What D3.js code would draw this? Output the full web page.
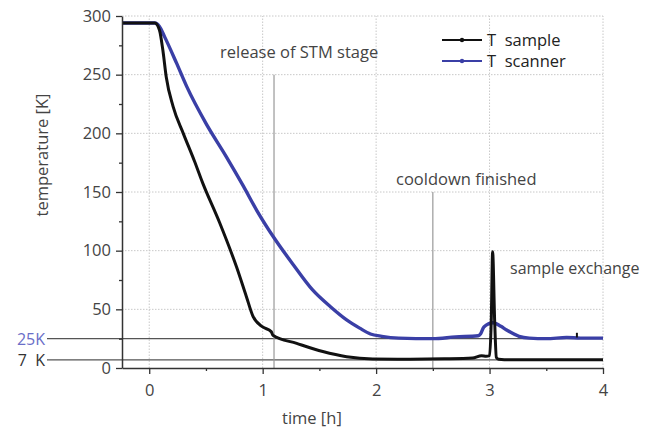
<!DOCTYPE html>
<html>
<head>
<meta charset="utf-8">
<script src="https://cdn.jsdelivr.net/npm/d3@7"></script>
<style>
  body { margin: 0; background: #fff; }
  svg { display: block; font-family: "Open Sans", sans-serif; }
  text { white-space: pre; }
</style>
</head>
<body>
<svg id="chart" width="646" height="430"></svg>
<script>
// values
const sampleTime = [-0.24, 0.05, 0.09, 0.12, 0.15, 0.21, 0.30, 0.40, 0.47, 0.62, 0.77, 0.856, 0.915, 1.0, 1.075, 1.09, 1.3, 1.53, 1.74, 1.97, 2.3, 2.6, 2.85, 2.93, 2.97, 3.0, 3.015, 3.027, 3.045, 3.06, 3.08, 3.2, 3.6, 4.0];
const sampleTemp = [294, 294, 288, 271, 248, 223, 200, 176, 158, 124, 86, 61, 44, 35, 31, 28, 21, 14, 9.6, 7.7, 7.5, 7.8, 8.5, 10.5, 10, 10.5, 40, 99, 40, 9, 7.5, 7, 7, 7];

const scannerTime = [-0.24, 0.05, 0.09, 0.137, 0.24, 0.33, 0.50, 0.68, 0.83, 0.95, 1.1, 1.27, 1.44, 1.6, 1.74, 1.855, 1.95, 2.05, 2.2, 2.5, 2.7, 2.9, 2.92, 2.95, 3.03, 3.1, 3.15, 3.26, 3.35, 3.5, 3.68, 3.8, 4.0];
const scannerTemp = [294, 294, 291, 282, 260, 240, 208.5, 180, 155, 134, 111, 88, 66.5, 52, 41, 34, 29, 27, 25.5, 25, 26.5, 27.5, 29, 35, 38.6, 35.5, 32.4, 27, 25.5, 25, 26, 25.5, 25.5];

// small stray sample reading near 3.8 h
const glitchTime = [3.77, 3.77];
const glitchTemp = [26, 30];

const xTicks = [0, 1, 2, 3, 4];
const xMinor = [0.5, 1.5, 2.5, 3.5];
const yTicks = [0, 50, 100, 150, 200, 250, 300];
const yMinor = [25, 75, 125, 175, 225, 275];

const refLevels = [{ v: 25, label: "25K", color: "#6a6ec8" }, { v: 7, label: "7  K", color: "#333" }];
const markers = [
  { t: 1.1, top: 250, label: "release of STM stage", lx: 220, ly: 58 },
  { t: 2.5, top: 150, label: "cooldown finished", lx: 396, ly: 185 }
];

const blue = "#3a3fa6";
const svg = d3.select("#chart");
const x = d3.scaleLinear().domain([-0.24, 4]).range([122, 603]);
const y = d3.scaleLinear().domain([0, 300]).range([368, 16]);

// dotted grid
const grid = svg.append("g").attr("stroke", "#c8c8c8").attr("stroke-width", 1).attr("stroke-dasharray", "1.5,1.5");
grid.selectAll("line.h").data(yTicks.filter(d => d > 0)).enter().append("line")
  .attr("x1", x.range()[0]).attr("x2", x.range()[1])
  .attr("y1", d => y(d)).attr("y2", d => y(d));
grid.selectAll("line.v").data(xTicks).enter().append("line")
  .attr("x1", d => x(d)).attr("x2", d => x(d))
  .attr("y1", y(0)).attr("y2", y(300));

// reference levels 25K and 7K
refLevels.forEach(r => {
  svg.append("line").attr("x1", 47).attr("x2", x(4))
    .attr("y1", y(r.v)).attr("y2", y(r.v))
    .attr("stroke", "#555").attr("stroke-width", 1.2);
  svg.append("text").attr("x", 45).attr("y", y(r.v) + 6)
    .attr("text-anchor", "end").attr("font-size", 16).attr("fill", r.color)
    .text(r.label);
});

// event markers
markers.forEach(m => {
  svg.append("line").attr("x1", x(m.t)).attr("x2", x(m.t))
    .attr("y1", y(m.top)).attr("y2", y(0))
    .attr("stroke", "#999").attr("stroke-width", 1.2);
  svg.append("text").attr("x", m.lx).attr("y", m.ly)
    .attr("font-size", 16.5).attr("fill", "#444").text(m.label);
});
svg.append("text").attr("x", 510).attr("y", 274)
  .attr("font-size", 16).attr("fill", "#444").text("sample exchange");

// curves
const line = (ts) => d3.line()
  .x((d, i) => x(ts[i]))
  .y(d => y(d))
  .curve(d3.curveMonotoneX);

svg.append("path").datum(scannerTemp)
  .attr("d", line(scannerTime))
  .attr("fill", "none").attr("stroke", blue).attr("stroke-width", 3.4);

svg.append("path").datum(sampleTemp)
  .attr("d", line(sampleTime))
  .attr("fill", "none").attr("stroke", "#111").attr("stroke-width", 3)
  .attr("stroke-linejoin", "round");

svg.append("path").datum(glitchTemp)
  .attr("d", d3.line().x((d, i) => x(glitchTime[i])).y(d => y(d)))
  .attr("fill", "none").attr("stroke", "#111").attr("stroke-width", 2);

// axes
const axisY = svg.append("g").attr("transform", `translate(${x.range()[0]},0)`)
  .call(d3.axisLeft(y).tickValues(yTicks).tickSize(6).tickSizeOuter(0).tickPadding(5));
svg.append("g").attr("transform", `translate(${x.range()[0]},0)`)
  .call(d3.axisLeft(y).tickValues(yMinor).tickSize(3).tickSizeOuter(0).tickFormat(""))
  .select(".domain").remove();

const axisX = svg.append("g").attr("transform", `translate(0,${y(0)})`)
  .call(d3.axisBottom(x).tickValues(xTicks).tickSize(6).tickSizeOuter(0).tickPadding(10).tickFormat(d3.format("d")));
svg.append("g").attr("transform", `translate(0,${y(0)})`)
  .call(d3.axisBottom(x).tickValues(xMinor).tickSize(3).tickSizeOuter(0).tickFormat(""))
  .select(".domain").remove();

svg.selectAll(".tick line").attr("stroke", "#333").attr("stroke-width", 1.3);
svg.selectAll(".domain").attr("stroke", "#333").attr("stroke-width", 1.5);
[axisX, axisY].forEach(a => a.selectAll("text")
  .attr("font-size", 16.5).attr("fill", "#444").attr("font-family", "Open Sans, sans-serif"));

// axis titles
svg.append("text").attr("x", 282).attr("y", 424)
  .attr("font-size", 16.5).attr("fill", "#444").text("time [h]");
svg.append("text")
  .attr("transform", `translate(48,155) rotate(-90)`)
  .attr("text-anchor", "middle").attr("font-size", 16.5).attr("fill", "#444")
  .text("temperature [K]");

// legend
const legend = [{ label: "T  sample", color: "#111", y: 40 }, { label: "T  scanner", color: blue, y: 61 }];
legend.forEach(l => {
  svg.append("line").attr("x1", 442).attr("x2", 482)
    .attr("y1", l.y).attr("y2", l.y)
    .attr("stroke", l.color).attr("stroke-width", 2);
  svg.append("circle").attr("cx", 462).attr("cy", l.y).attr("r", 2.2).attr("fill", l.color);
  svg.append("text").attr("x", 487).attr("y", l.y + 6)
    .attr("font-size", 16.5).attr("fill", "#222").text(l.label);
});
</script>
</body>
</html>
